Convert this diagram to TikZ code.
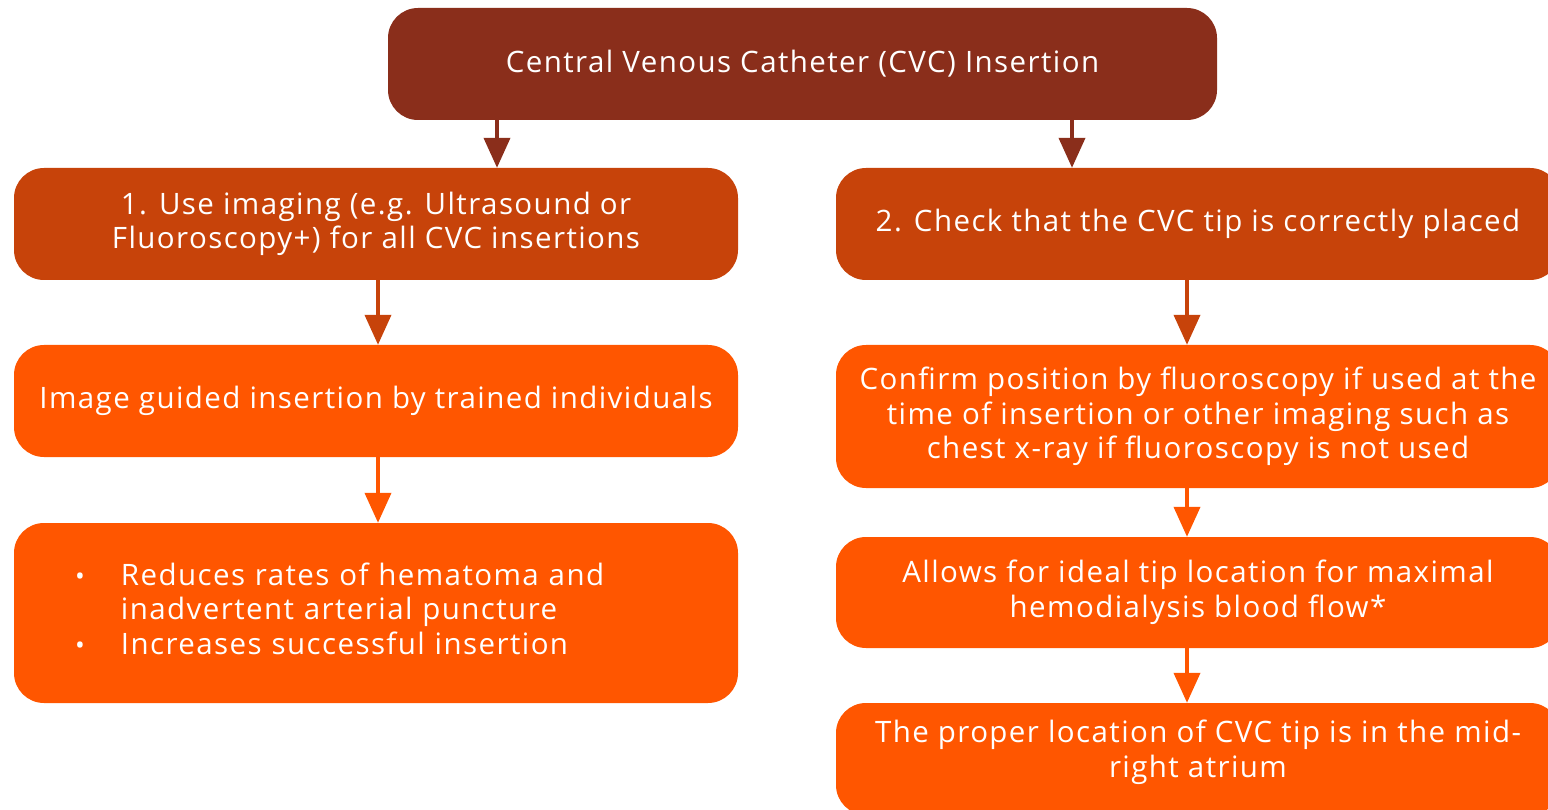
\documentclass[tikz,border=0pt]{standalone}
\usepackage{fontspec}
\setmainfont{Open Sans}[LetterSpace=4.8]
\usetikzlibrary{arrows.meta}
\definecolor{cdark}{HTML}{8A2E1B}
\definecolor{cmid}{HTML}{C7430A}
\definecolor{clight}{HTML}{FF5600}
\tikzset{
  box/.style={rounded corners=30pt, minimum width=724pt, minimum height=112pt, text=white, align=center, inner sep=0pt, font=\fontsize{29.5}{34.5}\selectfont},
  arr/.style={line width=4pt, -{Triangle[width=26pt,length=30pt]}},
}
\begin{document}
\begin{tikzpicture}[x=1pt,y=-1pt]
\useasboundingbox (0,0) rectangle (1548,810);
\clip (0,0) rectangle (1548,810);
\node[box, fill=cdark, minimum width=829pt] (top) at (802.5,64) {Central Venous Catheter (CVC) Insertion};
\node[box, fill=cmid] (b1) at (376,224) {1. Use imaging (e.g. Ultrasound or\\Fluoroscopy+) for all CVC insertions};
\node[box, fill=cmid] (b2) at (1198,224) {2. Check that the CVC tip is correctly placed};
\node[box, fill=clight] (l2) at (376,401) {Image guided insertion by trained individuals};
\node[box, fill=clight, minimum height=180pt, text width=724pt, align=left] (l3) at (376,613) {\hspace*{61pt}\begin{tabular}{@{}p{46pt}@{}l@{}}{\fontsize{26}{26}\selectfont•} & Reduces rates of hematoma and\\ & inadvertent arterial puncture\\ {\fontsize{26}{26}\selectfont•} & Increases successful insertion\end{tabular}};
\node[box, fill=clight, minimum height=143pt] (r2) at (1198,416.5) {Confirm position by fluoroscopy if used at the\\time of insertion or other imaging such as\\chest x-ray if fluoroscopy is not used};
\node[box, fill=clight, minimum height=111pt] (r3) at (1198,592.5) {Allows for ideal tip location for maximal\\hemodialysis blood flow*};
\node[box, fill=clight] (r4) at (1198,759) {\raisebox{6pt}[\height][\depth]{\begin{tabular}{@{}c@{}}The proper location of CVC tip is in the mid-\\right atrium\end{tabular}}};
\coordinate (ta) at (497,0);
\coordinate (tb) at (1072,0);
\coordinate (la) at (378,0);
\coordinate (ra) at (1187,0);
\draw[arr, cdark] (top.south -| ta) -- (b1.north -| ta);
\draw[arr, cdark] (top.south -| tb) -- (b2.north -| tb);
\draw[arr, cmid] (b1.south -| la) -- (l2.north -| la);
\draw[arr, clight] (l2.south -| la) -- (l3.north -| la);
\draw[arr, cmid] (b2.south -| ra) -- (r2.north -| ra);
\draw[arr, clight] (r2.south -| ra) -- (r3.north -| ra);
\draw[arr, clight] (r3.south -| ra) -- (r4.north -| ra);
\end{tikzpicture}
\end{document}
